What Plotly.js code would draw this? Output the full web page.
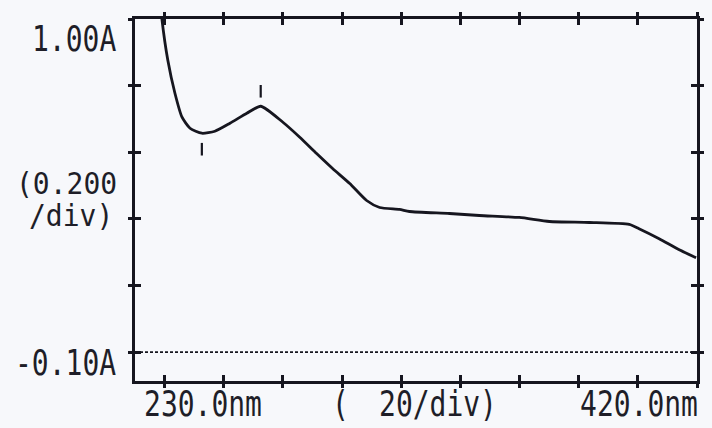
<!DOCTYPE html>
<html>
<head>
<meta charset="utf-8">
<script src="https://cdn.plot.ly/plotly-3.0.1.min.js"></script>
<style>
html,body{margin:0;padding:0;background:#f7f8fb;}
#chart{width:712px;height:428px;}
#chart .annotation-text{transform-box:fill-box;transform-origin:center;}
</style>
</head>
<body>
<div id="chart"></div>
<script>
// Spectrum data (wavelength nm, absorbance A)
const wavelength = [238.4, 239.1, 241.1, 243.5, 245.9, 248.6, 252.6, 257.0, 262.1, 267.8, 272.5,
  280.0, 285.7, 291.4, 296.8, 302.6, 308.3, 312.7, 319.4, 322.8, 336.3, 346.4, 359.9,
  370.1, 383.6, 397.1, 400.4, 407.2, 414.0, 419.7];
const absorbance = [1.072, 1.000, 0.876, 0.777, 0.705, 0.672, 0.657, 0.663, 0.687, 0.717, 0.738,
  0.690, 0.645, 0.596, 0.551, 0.506, 0.455, 0.434, 0.428, 0.422, 0.416, 0.410, 0.404,
  0.392, 0.389, 0.383, 0.370, 0.340, 0.307, 0.283];
const peakWl = [272.5];
const valleyWl = [252.6];
const xTicks = [240, 260, 280, 300, 320, 340, 360, 380, 400, 420];
const yTicks = [0.0, 0.2, 0.4, 0.6, 0.8, 1.0];
const yTopLabel = '1.00A';
const yBottomLabel = '-0.10A';
const yDivLabel1 = '(0.200';
const yDivLabel2 = '/div)';
const xStartLabel = '230.0nm';
const xEndLabel = '420.0nm';
const xDivLabel1 = '(';
const xDivLabel2 = '20/div)';

function valueAt(wl){
  for (let i=0;i<wavelength.length-1;i++){
    if (wl>=wavelength[i] && wl<=wavelength[i+1]){
      const t=(wl-wavelength[i])/(wavelength[i+1]-wavelength[i]);
      return absorbance[i]+t*(absorbance[i+1]-absorbance[i]);
    }
  }
  return absorbance[absorbance.length-1];
}

const ink = '#16161f';
const font = {family:'DejaVu Sans Mono, monospace', size:28, color:'#1e1e28'};

const traces = [
  {x: wavelength, y: absorbance, mode:'lines', type:'scatter',
   line:{color:ink, width:2.8, shape:'spline', smoothing:0.6}, hoverinfo:'skip'},
  {x: peakWl, y: peakWl.map(w=>valueAt(w)+0.045), mode:'markers', type:'scatter',
   marker:{symbol:'line-ns', size:9, line:{color:ink, width:2.2}}, hoverinfo:'skip'},
  {x: valleyWl, y: valleyWl.map(w=>valueAt(w)-0.048), mode:'markers', type:'scatter',
   marker:{symbol:'line-ns', size:9, line:{color:ink, width:2.2}}, hoverinfo:'skip'},
  {x:[xTicks[0]], y:[yTicks[0]], xaxis:'x2', yaxis:'y2', mode:'markers', type:'scatter',
   marker:{opacity:0}, hoverinfo:'skip'}
];

const xr = [230, 420];
const yr = [-0.087, 1.0];
const layout = {
  width:712, height:428,
  margin:{l:135, r:15, t:19, b:47},
  paper_bgcolor:'#f7f8fb', plot_bgcolor:'#f7f8fb',
  showlegend:false,
  xaxis:{range:xr, tickmode:'array', tickvals:xTicks, showticklabels:false,
    ticks:'inside', ticklen:6, tickwidth:3, tickcolor:ink, mirror:'allticks',
    showline:true, linecolor:ink, linewidth:2.6, showgrid:false, zeroline:false},
  yaxis:{range:yr, tickmode:'array', tickvals:yTicks, showticklabels:false,
    ticks:'inside', ticklen:6, tickwidth:3, tickcolor:ink, mirror:'allticks',
    showline:true, linecolor:ink, linewidth:2.6, showgrid:false, zeroline:false},
  xaxis2:{range:xr, overlaying:'x', anchor:'y2', tickmode:'array', tickvals:xTicks, showticklabels:false,
    ticks:'outside', ticklen:6, tickwidth:3, tickcolor:ink, mirror:'allticks',
    showline:false, showgrid:false, zeroline:false},
  yaxis2:{range:yr, overlaying:'y', anchor:'x2', tickmode:'array', tickvals:yTicks, showticklabels:false,
    ticks:'outside', ticklen:6, tickwidth:3, tickcolor:ink, mirror:'allticks',
    showline:false, showgrid:false, zeroline:false},
  shapes:[{type:'line', xref:'paper', x0:0, x1:1, yref:'y', y0:0, y1:0,
    line:{color:ink, width:1.8, dash:'3px,2px'}}],
  annotations:[
    {text:yTopLabel, xref:'paper', yref:'paper', x:0, y:1, xanchor:'right', yanchor:'middle',
     xshift:-17, yshift:-19, showarrow:false, font:font},
    {text:yDivLabel1, xref:'paper', yref:'paper', x:0, y:1, xanchor:'left', yanchor:'middle',
     xshift:-121, yshift:-164, showarrow:false, font:font},
    {text:yDivLabel2, xref:'paper', yref:'paper', x:0, y:1, xanchor:'left', yanchor:'middle',
     xshift:-108, yshift:-196, showarrow:false, font:font},
    {text:yBottomLabel, xref:'paper', yref:'paper', x:0, y:0, xanchor:'right', yanchor:'middle',
     xshift:-17, yshift:19, showarrow:false, font:font},
    {text:xStartLabel, xref:'paper', yref:'paper', x:0, y:0, xanchor:'left', yanchor:'middle',
     xshift:7, yshift:-22, showarrow:false, font:font},
    {text:xDivLabel1, xref:'paper', yref:'paper', x:0, y:0, xanchor:'left', yanchor:'middle',
     xshift:195, yshift:-22, showarrow:false, font:font},
    {text:xDivLabel2, xref:'paper', yref:'paper', x:0, y:0, xanchor:'left', yanchor:'middle',
     xshift:242, yshift:-22, showarrow:false, font:font},
    {text:xEndLabel, xref:'paper', yref:'paper', x:1, y:0, xanchor:'right', yanchor:'middle',
     xshift:3, yshift:-22, showarrow:false, font:font}
  ]
};

Plotly.newPlot('chart', traces, layout, {staticPlot:true, displayModeBar:false}).then(function(){
  document.querySelectorAll('#chart .annotation-text').forEach(function(el){
    const t = el.textContent;
    const s = (t === yDivLabel1 || t === yDivLabel2) ? 1.08 : 1.28;
    el.style.transform = 'scaleY(' + s + ')';
  });
});
</script>
</body>
</html>
